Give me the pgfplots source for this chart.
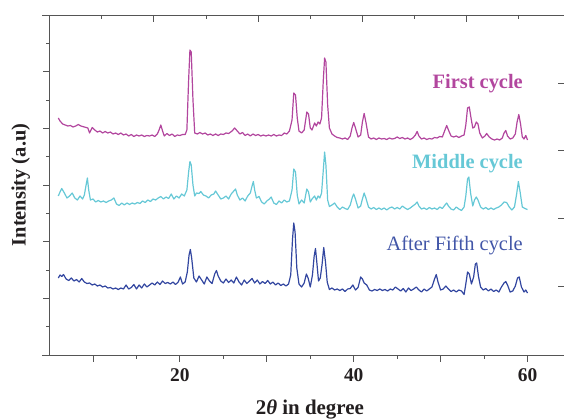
\documentclass[border=0pt]{standalone}
\usepackage{fontspec}
\setmainfont{Liberation Serif}
\usepackage{pgfplots}
\pgfplotsset{compat=1.18}
\definecolor{clrFirst}{RGB}{178,70,158}
\definecolor{clrMiddle}{RGB}{102,200,214}
\definecolor{clrFifth}{RGB}{50,70,160}
\definecolor{clrFifthTxt}{RGB}{66,86,168}
\definecolor{clrAxis}{RGB}{85,85,85}
\definecolor{clrText}{RGB}{35,31,32}

\pgfplotsset{
  xrdframe/.style={
    scale only axis, width=514.4bp, height=340bp,
    xmin=5, xmax=64.2, ymin=0, ymax=340,
    axis line style={clrAxis, line width=0.9bp},
    tick style={clrAxis, line width=0.9bp},
    major tick length=6.5bp, minor tick length=3.5bp,
  },
}

\begin{document}
\begin{tikzpicture}
% top axis and right-hand ticks of the (cropped) twin axis
\begin{axis}[xrdframe,
  axis x line*=top, axis y line*=right,
  x axis line style={shorten <=-7.5bp},
  y axis line style={draw=none},
  xtick={17,29,41,53}, minor xtick={11,23,35,47,59},
  ytick={69,136.7,204.3,271.7}, minor ytick={},
  xticklabels={}, yticklabels={},
  tick align=inside,
]
\end{axis}

\begin{axis}[xrdframe, name=main,
  axis x line*=bottom, axis y line*=left,
  x axis line style={shorten <=-7.5bp},
  tick align=outside,
  xtick={10,20,30,40,50,60}, xticklabels={,20,,40,,60},
  minor xtick={15,25,35,45,55},
  ytick={0,56.667,113.333,170,226.667,283.333,340}, yticklabels={},
  minor ytick={28.333,85,141.667,198.333,255,311.667},
  /pgf/number format/assume math mode=true,
  ticklabel style={font=\fontsize{19.5}{19.5}\selectfont\bfseries, text=clrText},
  xticklabel style={yshift=-4bp},
  xlabel={2\textit{θ} in degree},
  ylabel={Intensity (a.u)},
  every axis x label/.style={at={(axis description cs:0.506,-0.176)}, anchor=base,
    font=\fontsize{21}{21}\selectfont\bfseries, text=clrText},
  every axis y label/.style={at={(axis description cs:-0.0560,0.5)}, rotate=90, anchor=center,
    font=\fontsize{20.5}{20.5}\selectfont\bfseries, text=clrText},
]
\addplot[clrFirst, line width=1.2bp, line join=round] coordinates {
(6.0,237) (6.2,234) (6.5,231) (6.8,230) (7.1,229) (7.4,229.5) (7.7,228) (8.0,229)
(8.3,230.5) (8.6,229) (9.0,228) (9.4,227) (9.6,222) (9.9,227.5) (10.2,225) (10.5,223)
(10.8,224) (11.1,222) (11.4,223.5) (11.7,222) (12.0,223) (12.3,221) (12.6,222) (12.9,220.5)
(13.2,222) (13.5,220) (13.8,221) (14.1,219) (14.4,220.5) (14.7,218.5) (15.0,220) (15.3,219)
(15.6,220) (15.9,218.5) (16.2,219.5) (16.5,219) (16.8,220) (17.1,218.5) (17.4,221) (17.6,225)
(17.8,230) (18.0,224) (18.2,219) (18.5,221.5) (18.8,219.5) (19.1,221) (19.4,218.5) (19.7,220)
(20.0,219.5) (20.3,220.5) (20.6,220.5) (20.8,225) (21.0,275) (21.15,305) (21.3,303) (21.5,255)
(21.7,222) (22.0,221) (22.3,222.5) (22.6,221) (22.9,222) (23.2,220) (23.5,221) (23.8,219.5)
(24.1,221) (24.4,219.5) (24.7,221) (25.0,220.5) (25.3,222) (25.6,221.5) (26.0,224) (26.3,227)
(26.6,224) (26.9,221) (27.2,222.5) (27.5,219.5) (27.8,221) (28.1,219) (28.4,221) (28.7,219.5)
(29.0,220.5) (29.3,219) (29.6,220) (29.9,219) (30.2,220) (30.5,219) (30.8,220.5) (31.1,219)
(31.4,220) (31.7,219.5) (32.0,222) (32.3,221) (32.6,224) (32.9,235) (33.1,262) (33.3,260)
(33.5,237) (33.7,224) (34.0,222) (34.3,225) (34.6,243) (34.8,241) (35.0,227) (35.2,225)
(35.5,232) (35.7,229) (35.9,233) (36.1,231) (36.3,237) (36.5,275) (36.65,297) (36.8,293)
(37.0,250) (37.2,227) (37.5,221) (37.8,219) (38.1,217.5) (38.4,217) (38.7,216) (39.0,217)
(39.3,215.5) (39.6,219) (39.8,227) (40.0,232.5) (40.2,227) (40.5,218) (40.8,220) (41.0,233)
(41.2,241.5) (41.4,233) (41.7,218) (42.0,216) (42.3,217) (42.6,215.5) (42.9,217) (43.2,216)
(43.5,216.5) (43.8,215.5) (44.1,217) (44.4,216) (44.7,216.5) (45.0,218) (45.3,216.5) (45.6,217.5)
(45.9,216) (46.2,217) (46.5,215.5) (46.8,217) (47.1,220) (47.3,223.5) (47.5,219) (47.8,216)
(48.1,217) (48.4,215.5) (48.7,216.5) (49.0,216) (49.3,217.5) (49.6,217) (49.9,218.5) (50.2,218)
(50.5,225) (50.7,229.5) (50.9,225) (51.2,219) (51.5,218) (51.8,219) (52.1,217.5) (52.4,219)
(52.7,220) (52.9,230) (53.1,247) (53.3,248) (53.5,237) (53.7,227) (53.9,228) (54.1,233)
(54.3,231) (54.5,222) (54.8,217) (55.1,219) (55.3,221.5) (55.6,218) (55.9,216) (56.2,215)
(56.5,216) (56.8,215) (57.1,217) (57.3,222) (57.5,224.5) (57.7,219) (58.0,216) (58.3,217)
(58.6,221) (58.8,233) (59.0,240.5) (59.2,231) (59.4,218) (59.6,216) (59.8,219.5) (60.0,215)
};
\addplot[clrMiddle, line width=1.2bp, line join=round] coordinates {
(6.0,159) (6.2,163) (6.4,166.5) (6.7,162) (7.0,157) (7.3,159) (7.6,162) (7.9,157)
(8.2,155) (8.5,159) (8.8,156) (9.0,160) (9.2,170) (9.35,177) (9.5,165) (9.7,155)
(10.0,156) (10.3,153) (10.6,154.5) (10.9,153) (11.2,154) (11.5,152.5) (11.8,154) (12.1,155)
(12.4,157) (12.7,151) (13.0,149.5) (13.3,152) (13.6,150) (13.9,152) (14.2,150.5) (14.5,152)
(14.8,151) (15.1,152.5) (15.4,151.5) (15.7,154) (16.0,152.5) (16.3,155) (16.6,153.5) (16.9,156)
(17.2,155) (17.5,157) (17.8,158.5) (18.1,156) (18.4,158) (18.7,156.5) (19.0,161) (19.3,156)
(19.6,159) (19.9,157) (20.2,161) (20.5,159) (20.8,165) (21.0,183) (21.15,193.5) (21.3,190)
(21.5,170) (21.7,159) (21.9,162) (22.2,161.5) (22.4,163.5) (22.7,160) (23.0,159) (23.3,157)
(23.6,160) (23.9,161) (24.1,164) (24.4,160) (24.7,156) (25.0,157) (25.3,159) (25.6,156)
(25.9,161) (26.2,164) (26.4,166) (26.6,160) (26.9,155) (27.2,157) (27.5,154) (27.8,159)
(28.1,162) (28.3,169) (28.45,173.5) (28.6,165) (28.8,157) (29.1,158.5) (29.4,153) (29.7,151)
(30.0,154) (30.3,156) (30.5,158) (30.8,152) (31.1,150.5) (31.4,154) (31.7,152) (32.0,155)
(32.3,153) (32.6,154) (32.9,165) (33.1,186) (33.3,183) (33.5,160) (33.7,151) (34.0,155)
(34.3,152) (34.6,166) (34.8,163) (35.0,153) (35.2,156) (35.5,159) (35.7,155) (35.9,159)
(36.1,157) (36.3,162) (36.5,185) (36.65,203) (36.8,190) (37.0,155) (37.2,148.5) (37.5,150)
(37.8,152) (38.1,148) (38.4,145.5) (38.7,148) (39.0,146.5) (39.3,145.5) (39.6,150) (39.85,158)
(40.0,161) (40.2,156) (40.5,147) (40.8,149) (41.0,156) (41.2,162) (41.4,157) (41.7,148)
(42.0,146) (42.3,147.5) (42.6,145.5) (42.9,147) (43.2,145.5) (43.5,147) (43.8,145) (44.1,147)
(44.4,148) (44.7,146) (45.0,147.5) (45.3,146) (45.6,149) (45.9,147) (46.2,145.5) (46.5,147)
(46.8,149) (47.1,151) (47.3,153) (47.5,149) (47.8,146) (48.1,147) (48.4,145.5) (48.7,147.5)
(49.0,146) (49.3,147) (49.6,145.5) (49.9,148) (50.2,146.5) (50.5,150) (50.7,152) (50.9,149)
(51.2,146) (51.5,145) (51.8,148) (52.1,146) (52.4,144.5) (52.7,148) (52.9,159) (53.1,176)
(53.25,178) (53.45,162) (53.7,149) (53.9,155) (54.1,158) (54.3,155) (54.6,148) (54.9,146)
(55.2,147.5) (55.5,145.5) (55.8,147) (56.1,145.5) (56.4,147) (56.7,148) (57.0,150) (57.3,153)
(57.6,152.5) (57.9,148) (58.2,145) (58.5,148) (58.75,161) (58.95,173.5) (59.15,163) (59.4,148)
(59.7,146.5) (60.0,145.5)
};
\addplot[clrFifth, line width=1.2bp, line join=round] coordinates {
(6.0,77) (6.2,80) (6.4,78.5) (6.6,80.5) (6.9,76) (7.2,74.5) (7.5,77) (7.8,74)
(8.1,75.5) (8.4,73) (8.7,76.5) (9.0,73) (9.3,71.5) (9.6,72) (9.9,70) (10.2,71)
(10.5,69) (10.8,70) (11.1,68) (11.4,69) (11.7,67) (12.0,67.5) (12.3,66) (12.6,67)
(12.9,65.5) (13.2,67) (13.5,66) (13.8,70) (14.1,66) (14.4,67.5) (14.7,70.5) (15.0,66)
(15.3,70) (15.6,67) (15.9,71) (16.2,68) (16.5,70) (16.8,72) (17.1,70) (17.4,73)
(17.7,70.5) (18.0,74) (18.3,71.5) (18.6,72.5) (18.9,71) (19.2,73) (19.5,70.5) (19.8,73)
(20.05,78) (20.3,71) (20.6,73) (20.85,83) (21.05,100) (21.2,105.5) (21.35,97) (21.6,77)
(21.9,73) (22.2,79) (22.5,75) (22.8,71) (23.1,78) (23.4,74) (23.7,71.5) (24.0,81)
(24.2,84.5) (24.4,79) (24.7,74) (25.0,72) (25.3,76) (25.6,72.5) (25.9,75) (26.2,72)
(26.5,78) (26.8,73) (27.1,70) (27.4,75) (27.7,71.5) (28.0,74) (28.3,76.5) (28.6,72)
(28.9,75) (29.2,71) (29.5,73.5) (29.8,71.5) (30.1,74.5) (30.4,71) (30.7,73) (31.0,70)
(31.3,72) (31.6,69.5) (31.9,71) (32.2,69) (32.5,71) (32.75,80) (32.95,115) (33.1,132)
(33.25,123) (33.45,87) (33.7,71) (34.0,68) (34.3,72) (34.55,81) (34.75,77) (35.0,68)
(35.25,80) (35.45,99) (35.6,106.5) (35.75,93) (35.95,74) (36.15,77) (36.35,90) (36.55,107.5)
(36.75,93) (36.95,73) (37.2,65.5) (37.5,67) (37.8,65) (38.1,66) (38.4,64.5) (38.7,66)
(39.0,63.5) (39.3,66) (39.6,66.5) (39.9,70) (40.2,65) (40.5,67.5) (40.8,78) (41.0,76)
(41.2,72) (41.5,70) (41.8,65) (42.1,64) (42.4,65.5) (42.7,64.5) (43.0,66) (43.3,64.5)
(43.6,65.5) (43.9,64) (44.2,66) (44.5,65) (44.8,68) (45.1,66) (45.4,64) (45.7,66.5)
(46.0,63) (46.3,67) (46.6,64.5) (46.9,66) (47.2,68) (47.5,65) (47.8,63) (48.1,66)
(48.4,64) (48.7,66) (49.0,68) (49.3,76) (49.5,80.5) (49.7,73) (50.0,65) (50.3,66)
(50.6,69) (50.9,66) (51.2,63.5) (51.5,65) (51.8,63) (52.1,65) (52.4,64) (52.7,60.5)
(52.9,71) (53.1,83) (53.3,81) (53.55,71) (53.8,78) (54.0,91) (54.15,92) (54.35,79)
(54.6,68) (54.9,65) (55.2,66.5) (55.5,64) (55.8,66) (56.1,63.5) (56.4,65) (56.7,63)
(57.0,68) (57.3,72) (57.5,73.5) (57.7,70) (58.0,63) (58.3,64) (58.6,69) (58.85,77)
(59.05,78) (59.3,68) (59.6,63) (59.8,65) (60.0,62)
};
\node[anchor=east, inner sep=0pt, text=clrFirst, font=\fontsize{20.5}{20.5}\selectfont\bfseries]
  at (axis cs:59.48,271.7) {First cycle};
\node[anchor=east, inner sep=0pt, text=clrMiddle, font=\fontsize{20.5}{20.5}\selectfont\bfseries]
  at (axis cs:59.48,191.7) {Middle cycle};
\node[anchor=east, inner sep=0pt, text=clrFifthTxt, font=\fontsize{20.5}{20.5}\selectfont]
  at (axis cs:59.48,109) {After Fifth cycle};
\end{axis}
\pgfresetboundingbox
\path[use as bounding box] (main.south west) ++(-49.6bp,-64bp) rectangle ++(564bp,419bp);
\end{tikzpicture}
\end{document}
